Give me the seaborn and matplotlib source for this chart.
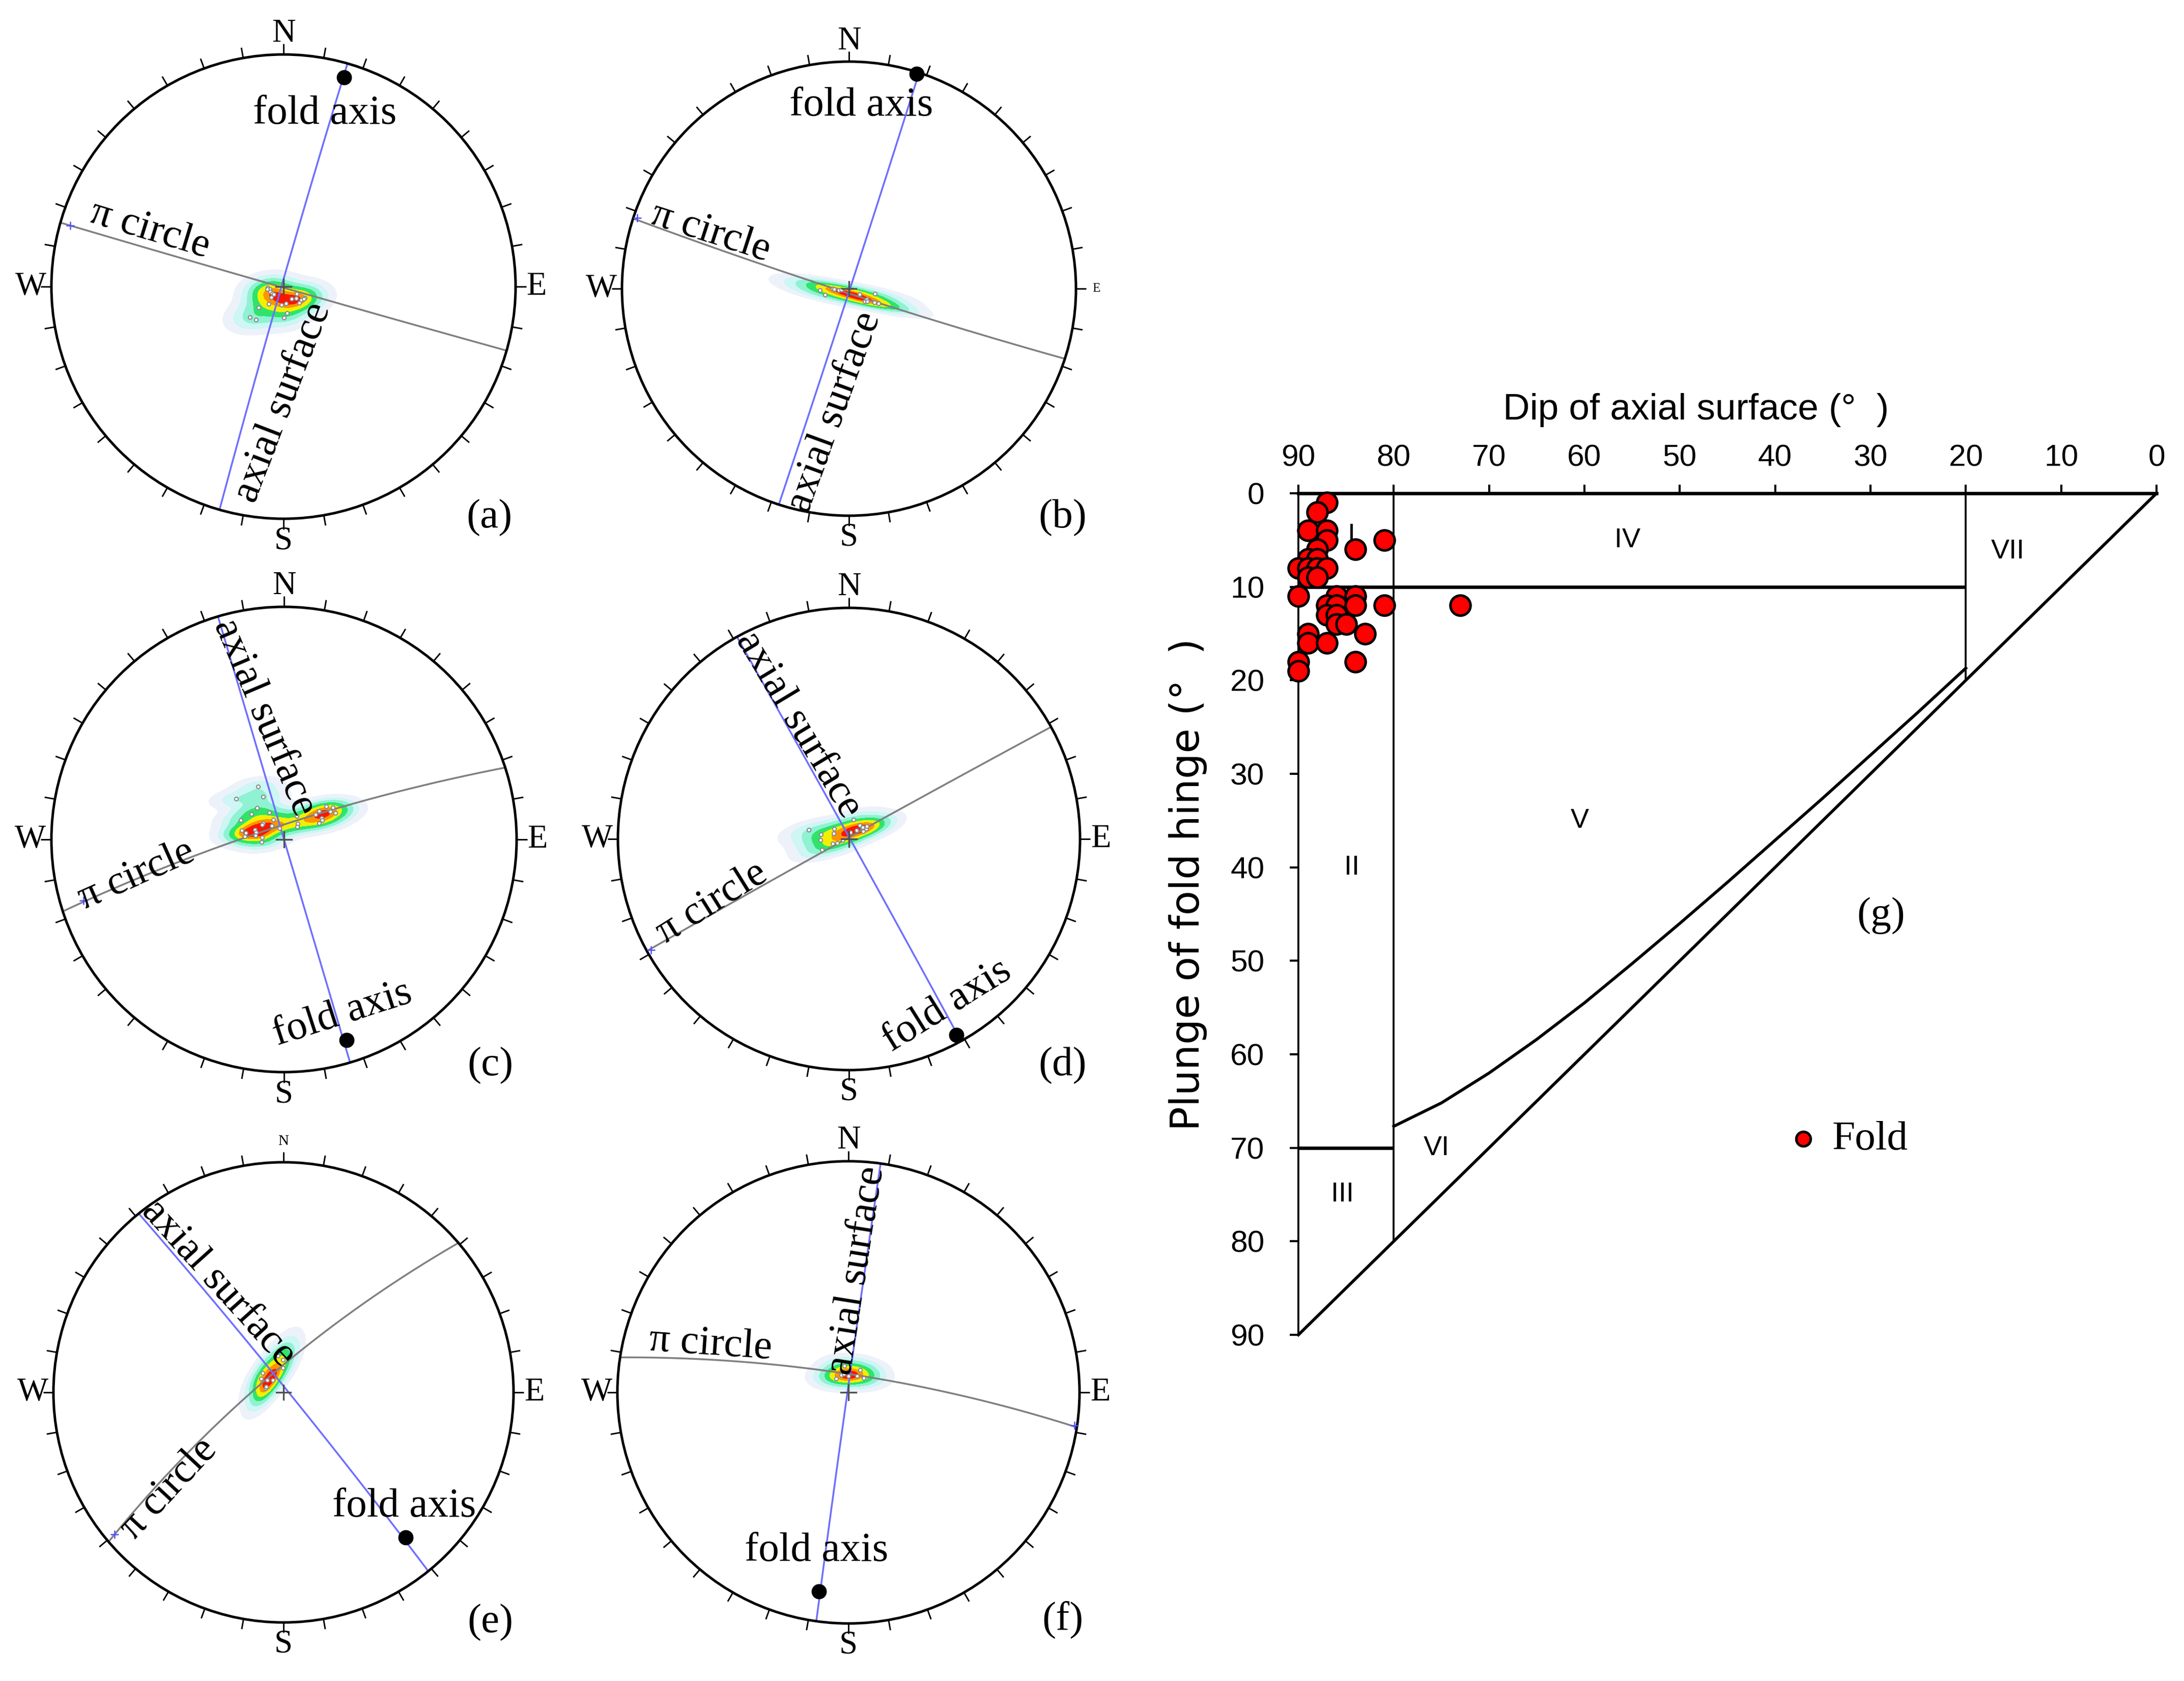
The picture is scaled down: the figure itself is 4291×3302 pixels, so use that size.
import numpy as np
import pandas as pd
import matplotlib
matplotlib.use("Agg")
import matplotlib.pyplot as plt
import seaborn as sns
from matplotlib import font_manager
from matplotlib.collections import LineCollection
from matplotlib.patches import Circle

# --------------------------------------------
# DATA: stereonets (a)-(f)
# --------------------------------------------
NET_NAMES = ["(a)", "(b)", "(c)", "(d)", "(e)", "(f)"]

# pi circle and axial surface planes (strike right-hand rule, dip)
PI_STRIKE = [106, 108, 252, 241, 229.5, 278.7]
PI_DIP = [89.5, 87.7, 83, 89.3, 79.5, 81]
AXIAL_STRIKE = [196, 18, 163.5, 331, 321, 188]
AXIAL_DIP = [89, 89.5, 90, 89.5, 88, 89.5]

# fold axis (trend, plunge) and pole of the axial surface (blue cross)
FOLD_TREND = [16.2, 17.5, 162.6, 151.3, 139.8, 188.4]
FOLD_PLUNGE = [3.6, 0.5, 5.8, 1.9, 11.0, 7.9]
BETA_TREND = [286, 288.5, 253, 240.7, 229.9, 98.3]
BETA_PLUNGE = [2.6, 0.9, 6.0, 1.0, 2.4, 0.7]

# bedding poles, projected position in each net (x east, y north, radius 1)
POLE_X_A = [-0.067, -0.059, -0.070, -0.056, -0.048, -0.041, -0.053, -0.063,
            -0.008, 0.010, 0.036, 0.056, 0.054, 0.069, 0.076, 0.093, 0.087,
            -0.107, 0.016, 0.003, -0.145, -0.119]
POLE_Y_A = [-0.004, -0.012, -0.010, -0.023, -0.029, -0.032, -0.045, -0.074,
            -0.079, -0.072, -0.052, -0.030, -0.050, -0.070, -0.056, -0.048,
            -0.053, -0.090, -0.114, -0.133, -0.131, -0.142]
POLE_X_B = [-0.128, -0.105, -0.072, -0.064, -0.044, -0.034, 0.048, 0.070,
            0.078, 0.081, 0.114, 0.111, 0.129]
POLE_Y_B = [-0.007, -0.028, 0.001, -0.003, -0.007, -0.005, -0.025, -0.055,
            -0.048, -0.055, -0.023, -0.061, -0.065]
POLE_X_C = [-0.206, -0.111, -0.090, -0.117, -0.139, -0.064, -0.047, -0.186,
            -0.053, -0.090, -0.095, -0.125, -0.120, -0.182, -0.165, -0.168,
            -0.123, -0.095, -0.096, -0.020, 0.055, 0.058, 0.056, 0.151,
            0.182, 0.210, 0.222, 0.199, 0.163, 0.164, 0.151, 0.135]
POLE_Y_C = [0.174, 0.227, 0.183, 0.135, 0.110, 0.115, 0.085, 0.084,
            0.058, 0.071, 0.064, 0.042, 0.031, 0.039, 0.029, 0.013,
            0.017, 0.009, -0.012, 0.049, 0.101, 0.068, 0.055, 0.123,
            0.143, 0.137, 0.113, 0.120, 0.091, 0.084, 0.071, 0.108]
POLE_X_D = [-0.174, -0.122, -0.124, -0.064, -0.065, -0.071, -0.051, -0.026,
            -0.116, 0.019, 0.046, 0.032, 0.006, 0.057, 0.061, 0.074, 0.076,
            0.059]
POLE_Y_D = [0.039, 0.020, -0.004, 0.045, 0.024, -0.019, -0.017, -0.005,
            -0.046, 0.083, 0.060, 0.037, 0.029, 0.046, 0.033, 0.043, 0.056,
            0.051]
POLE_X_E = [-0.024, -0.002, -0.002, -0.090, -0.097, -0.070, -0.046, -0.077,
            -0.076]
POLE_Y_E = [0.159, 0.142, 0.107, 0.085, 0.060, 0.052, 0.052, 0.018, 0.024]
POLE_X_F = [-0.017, 0.050, 0.037, 0.066, -0.053, -0.031, -0.019, 0.001]
POLE_Y_F = [0.115, 0.098, 0.071, 0.061, 0.060, 0.075, 0.079, 0.071]

POLE_X = [POLE_X_A, POLE_X_B, POLE_X_C, POLE_X_D, POLE_X_E, POLE_X_F]
POLE_Y = [POLE_Y_A, POLE_Y_B, POLE_Y_C, POLE_Y_D, POLE_Y_E, POLE_Y_F]

# --------------------------------------------
# DATA: fold classification diagram (g)
# --------------------------------------------
HINGE_DIP = [87, 88, 89, 87, 87, 81, 84, 88, 89, 88, 90, 89, 88, 87, 89, 88,
             90, 86, 84, 87, 86, 84, 81, 73, 87, 86, 86, 85, 83, 89, 89, 87,
             84, 90, 90]
HINGE_PLUNGE = [1, 2, 4, 4, 5, 5, 6, 6, 7, 7, 8, 8, 8, 8, 9, 9,
                11, 11, 11, 12, 12, 12, 12, 12, 13, 13, 14, 14, 15, 15, 16, 16,
                18, 18, 19]

# class boundaries (dip of axial surface, plunge of hinge)
DIP_10 = [90, 20]
PLG_10 = [10, 10]
DIP_70 = [90, 80]
PLG_70 = [70, 70]
DIP_V80 = [80, 80]
PLG_V80 = [0, 80]
DIP_V20 = [20, 20]
PLG_V20 = [0, 20]
DIP_DIAG = [0, 90]
PLG_DIAG = [0, 90]
PITCH70_DIP = [20, 25, 30, 35, 40, 45, 50, 55, 60, 65, 70, 75, 80]
PITCH70_PLG = [18.7, 23.4, 28.0, 32.6, 37.1, 41.6, 46.0, 50.3, 54.5, 58.4,
               62.0, 65.2, 67.7]

CLASS_NAMES = ["I", "II", "III", "IV", "V", "VI", "VII"]
CLASS_DIP = [84.4, 84.4, 85.4, 55.5, 60.5, 75.5, 15.6]
CLASS_PLG = [4.5, 40.0, 75.0, 5.0, 35.0, 70.0, 6.2]

# --------------------------------------------
# LAYOUT
# --------------------------------------------
W_PX, H_PX, DPI = 4291, 3302, 300
NET_CENTERS = [(557, 563), (1668, 567), (558, 1649), (1668, 1648),
               (557, 2735), (1667, 2735)]
NET_RADII = [456, 446, 457, 454, 452, 454]
DIR_SIZES = [(15.5, 15.5, 15.5, 15.5), (15.5, 6, 15.5, 15.5),
             (15.5, 15.5, 15.5, 15.5), (15.5, 15.5, 15.5, 15.5),
             (7, 15.5, 15.5, 15.5), (15.5, 15.5, 15.5, 15.5)]  # N E S W
FOLD_LABEL = [(0.178, 0.744, 0), (0.053, 0.805, 0), (0.252, -0.75, 18),
              (0.425, -0.722, 32), (0.524, -0.496, 0), (-0.139, -0.686, 0)]
PI_LABEL = [(-0.575, 0.245, -17), (-0.61, 0.246, -18), (-0.634, -0.153, 24),
            (-0.593, -0.277, 32), (-0.50, -0.42, 47), (-0.596, 0.207, -4)]
AXIAL_LABEL = [(-0.003, -0.50, 69), (-0.064, -0.545, 70), (-0.083, 0.524, -67),
               (-0.219, 0.494, -59), (-0.282, 0.473, -48), (0.036, 0.527, 81)]
PANEL_LABEL = [(0.886, -0.996), (0.942, -1.01), (0.887, -0.973),
               (0.925, -0.982), (0.90, -1.0), (0.927, -0.984)]
KDE_BW = [1.4, 1.7, 0.8, 1.4, 1.6, 1.9]
KDE_LEVELS = [0.015, 0.07, 0.17, 0.32, 0.5, 0.7, 0.86, 1.0]
KDE_COLORS = ["#edf2fa", "#cdf6f4", "#8ff2d2", "#2fe46a", "#f2f000",
              "#ff9400", "#ff1400"]

_names = {f.name for f in font_manager.fontManager.ttflist}
SERIF = "Liberation Serif"
SANS = "Liberation Sans"
NARROW = "Liberation Sans Narrow" if "Liberation Sans Narrow" in _names else SANS


# --------------------------------------------
# STEREONET HELPERS (lower hemisphere, equal angle)
# --------------------------------------------
def project_vectors(v):
    v = np.where(v[:, 2:3] > 0, -v, v)
    plunge = np.arcsin(np.clip(-v[:, 2], -1, 1))
    trend = np.arctan2(v[:, 0], v[:, 1])
    r = np.tan((np.pi / 2 - plunge) / 2)
    return r * np.sin(trend), r * np.cos(trend)


def great_circle(strike, dip, n=241):
    s, d = np.radians(strike), np.radians(dip)
    dd = s + np.pi / 2
    a = np.array([np.sin(s), np.cos(s), 0.0])
    b = np.array([np.sin(dd) * np.cos(d), np.cos(dd) * np.cos(d), -np.sin(d)])
    t = np.linspace(0, np.pi, n)
    v = np.outer(np.cos(t), a) + np.outer(np.sin(t), b)
    return project_vectors(v)


def line_point(trend, plunge):
    t, p = np.radians(trend), np.radians(plunge)
    r = np.tan((np.pi / 2 - p) / 2)
    return r * np.sin(t), r * np.cos(t)


def draw_net(fig, i):
    cx, cy = NET_CENTERS[i]
    R = NET_RADII[i]
    lim = 1.3
    ax = fig.add_axes([(cx - lim * R) / W_PX, 1 - (cy + lim * R) / H_PX,
                       2 * lim * R / W_PX, 2 * lim * R / H_PX])
    ax.patch.set_alpha(0)

    # pole density
    poles = pd.DataFrame({"px": POLE_X[i], "py": POLE_Y[i]})
    sns.kdeplot(data=poles, x="px", y="py", fill=True, levels=KDE_LEVELS,
                color="white", colors=KDE_COLORS, bw_adjust=KDE_BW[i], ax=ax)

    # primitive circle and 10 degree ticks
    ax.add_patch(Circle((0, 0), 1, fill=False, lw=1.2, color="black", zorder=3))
    az = np.radians(np.arange(0, 360, 10))
    segs = [[(np.sin(a), np.cos(a)), (1.045 * np.sin(a), 1.045 * np.cos(a))]
            for a in az]
    ax.add_collection(LineCollection(segs, colors="black", linewidths=0.7,
                                     zorder=3))

    # great circles
    x, y = great_circle(PI_STRIKE[i], PI_DIP[i])
    ax.plot(x, y, color="#808080", lw=0.85, zorder=2)
    x, y = great_circle(AXIAL_STRIKE[i], AXIAL_DIP[i])
    ax.plot(x, y, color="#6f6fff", lw=0.85, zorder=2)

    # poles, centre cross, beta cross, fold axis
    ax.scatter(POLE_X[i], POLE_Y[i], s=3, facecolors="white",
               edgecolors="#8a8a8a", linewidths=0.5, zorder=4)
    ax.plot([-0.032, 0.032], [0, 0], color="#505050", lw=0.8, zorder=4)
    ax.plot([0, 0], [-0.032, 0.032], color="#505050", lw=0.8, zorder=4)
    bx, by = line_point(BETA_TREND[i], BETA_PLUNGE[i])
    ax.plot([bx], [by], marker="+", ms=4, mew=0.6, color="#5050ff", zorder=4)
    fx, fy = line_point(FOLD_TREND[i], FOLD_PLUNGE[i])
    ax.scatter([fx], [fy], color="black", s=38, zorder=6)

    # labels
    sz = DIR_SIZES[i]
    kw = dict(family=SERIF, ha="center", va="center", color="black")
    ax.text(0, 1.09, "N", fontsize=sz[0], **kw)
    ax.text(1.09, 0, "E", fontsize=sz[1], **kw)
    ax.text(0, -1.095, "S", fontsize=sz[2], **kw)
    ax.text(-1.09, 0, "W", fontsize=sz[3], **kw)
    tkw = dict(family=SERIF, fontsize=19.5, ha="center", va="center",
               rotation_mode="anchor", zorder=7)
    ax.text(FOLD_LABEL[i][0], FOLD_LABEL[i][1], "fold axis",
            rotation=FOLD_LABEL[i][2], **tkw)
    ax.text(PI_LABEL[i][0], PI_LABEL[i][1], "\u03c0 circle",
            rotation=PI_LABEL[i][2], **tkw)
    ax.text(AXIAL_LABEL[i][0], AXIAL_LABEL[i][1], "axial surface",
            rotation=AXIAL_LABEL[i][2], **tkw)
    ax.text(PANEL_LABEL[i][0], PANEL_LABEL[i][1], NET_NAMES[i],
            family=SERIF, fontsize=19.5, ha="center", va="center")

    ax.set_xlim(-lim, lim)
    ax.set_ylim(-lim, lim)
    ax.axis("off")


def draw_classification(fig):
    ax = fig.add_axes([2551 / W_PX, 1 - 2622 / H_PX,
                       (4237 - 2551) / W_PX, (2622 - 969) / H_PX])

    thick, thin = 1.6, 0.9
    ax.plot(DIP_10, PLG_10, color="black", lw=thick, solid_capstyle="butt")
    ax.plot(DIP_70, PLG_70, color="black", lw=thick, solid_capstyle="butt")
    ax.plot(DIP_V80, PLG_V80, color="black", lw=thin)
    ax.plot(DIP_V20, PLG_V20, color="black", lw=thin)
    ax.plot(DIP_DIAG, PLG_DIAG, color="black", lw=1.4, clip_on=False)
    ax.plot(PITCH70_DIP, PITCH70_PLG, color="black", lw=1.4)

    hinges = pd.DataFrame({"dip": HINGE_DIP, "plunge": HINGE_PLUNGE})
    sns.scatterplot(data=hinges, x="dip", y="plunge", color="red",
                    edgecolor="black", linewidth=1.2, s=90, ax=ax, zorder=5,
                    clip_on=False, label="Fold")

    for name, d, p in zip(CLASS_NAMES, CLASS_DIP, CLASS_PLG):
        ax.text(d, p, name, family=NARROW, fontsize=13, ha="center",
                va="center")
    ax.text(28.9, 45.2, "(g)", family=SERIF, fontsize=19.5, ha="center",
            va="center")

    ax.legend(loc="center left", bbox_to_anchor=(0.545, 0.232),
              frameon=False, handlelength=0.8, handletextpad=0.3,
              borderpad=0, markerscale=0.72,
              prop=dict(family=SERIF, size=19.5))

    ax.set_xlim(90, 0)
    ax.set_ylim(90, 0)
    for side in ["right", "bottom"]:
        ax.spines[side].set_visible(False)
    ax.spines["top"].set_linewidth(1.6)
    ax.spines["left"].set_linewidth(thin)

    ax.xaxis.tick_top()
    ax.xaxis.set_label_position("top")
    ax.set_xticks(range(90, -1, -10))
    ax.set_yticks(range(0, 91, 10))
    ax.tick_params(axis="x", direction="out", length=4, width=1.0, pad=6,
                   labelsize=14.5)
    ax.tick_params(axis="y", direction="out", length=4, width=1.0, pad=12,
                   labelsize=14.5)
    for lab in ax.get_xticklabels() + ax.get_yticklabels():
        lab.set_fontfamily(NARROW)

    ax.set_xlabel("Dip of axial surface (\u00b0  )", family=SANS, fontsize=17.5)
    ax.xaxis.set_label_coords(0.463, 1.088)
    ax.set_ylabel("Plunge of fold hinge (\u00b0  )", family="DejaVu Sans",
                  fontsize=19)
    ax.yaxis.set_label_coords(-0.106, 0.535)


def main():
    fig = plt.figure(figsize=(W_PX / DPI, H_PX / DPI), dpi=DPI)
    fig.patch.set_facecolor("white")
    for i in range(len(NET_NAMES)):
        draw_net(fig, i)
    draw_classification(fig)
    fig.savefig("out.png", dpi=DPI, facecolor="white")
    plt.close(fig)


if __name__ == "__main__":
    main()
